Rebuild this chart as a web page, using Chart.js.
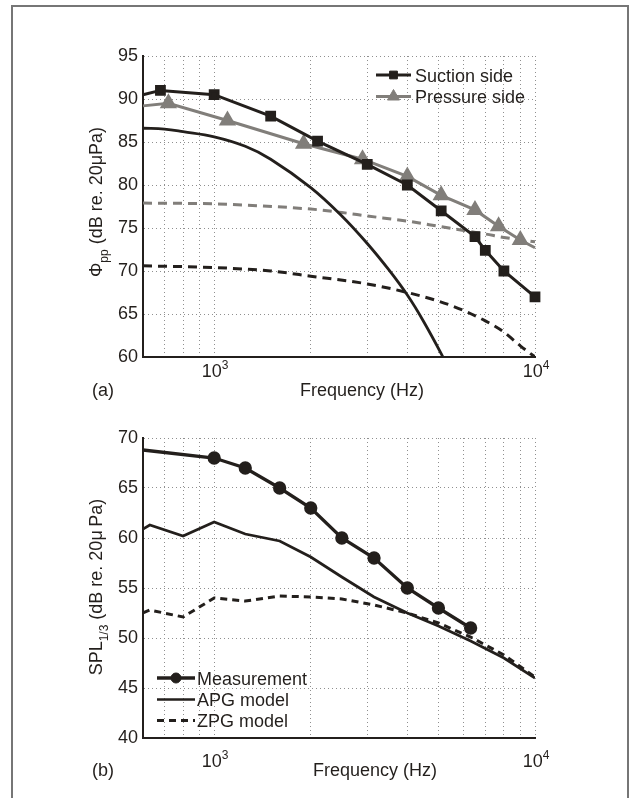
<!DOCTYPE html>
<html>
<head>
<meta charset="utf-8">
<script src="https://cdn.jsdelivr.net/npm/chart.js@4/dist/chart.umd.min.js"></script>
<style>
  html, body { margin: 0; padding: 0; background: #fff; }
  #page { position: relative; width: 629px; height: 798px; overflow: hidden; background: #fff; }
  #frame { position: absolute; left: 11px; top: 5px; width: 614px; height: 820px;
           border: 2px solid #767676; border-bottom: none; }
  canvas { position: absolute; left: 0; }
  #cA { top: 0; }
  #cB { top: 400px; }
</style>
</head>
<body>
<div id="page">
  <div id="frame"></div>
  <canvas id="cA" width="629" height="400"></canvas>
  <canvas id="cB" width="629" height="398"></canvas>
</div>
<script>
// ---- frequency axis: grid positions and labelled decades ----
const gridFreqs = [600, 700, 800, 900, 1000, 2000, 3000, 4000, 5000, 6000, 7000, 8000, 9000, 10000];
const decadeLabels = [1000, 10000];

// ---- (a) wall-pressure spectra, dB re. 20 uPa ----
const suctionFreq = [600, 680, 1000, 1500, 2100, 3000, 4000, 5100, 6500, 7000, 8000, 10000];
const suctionPhi  = [90.5, 91.0, 90.5, 88.0, 85.1, 82.4, 80.0, 77.0, 74.0, 72.4, 70.0, 67.0];
const pressureFreq = [600, 720, 1100, 1900, 2900, 4000, 5100, 6500, 7700, 9000, 10000];
const pressurePhi  = [89.2, 89.5, 87.5, 84.8, 83.0, 81.0, 78.8, 77.1, 75.2, 73.6, 72.7];
const suctionModelFreq = [600, 700, 800, 1000, 1250, 1500, 2000, 2500, 3000, 3500, 4000, 4500, 5200, 5600];
const suctionModelPhi  = [86.6, 86.5, 86.2, 85.6, 84.5, 83.0, 79.7, 76.4, 73.2, 70.15, 67.2, 64.1, 59.8, 57.4];
const pressureModelFreq = [600, 1000, 2000, 2500, 3000, 4000, 5000, 6000, 7000, 8000, 10000];
const pressureModelPhi  = [77.9, 77.8, 77.2, 76.8, 76.4, 75.8, 75.2, 74.7, 74.3, 73.9, 73.4];
const zpgModelFreq = [600, 1000, 1500, 2000, 3000, 4000, 5000, 6000, 7000, 8000, 9000, 10000];
const zpgModelPhi  = [70.6, 70.4, 70.0, 69.4, 68.5, 67.5, 66.5, 65.4, 64.2, 62.9, 61.3, 60.0];

// ---- (b) one-third-octave far-field noise ----
const measFreq = [600, 1000, 1250, 1600, 2000, 2500, 3150, 4000, 5000, 6300];
const measSPL  = [68.8, 68.0, 67.0, 65.0, 63.0, 60.0, 58.0, 55.0, 53.0, 51.0];
const bandFreq = [600, 630, 800, 1000, 1250, 1600, 2000, 2500, 3150, 4000, 5000, 6300, 8000, 10000];
const apgSPL   = [60.9, 61.3, 60.2, 61.6, 60.4, 59.7, 58.1, 56.1, 54.1, 52.5, 51.2, 49.7, 48.0, 46.0];
const zpgSPL   = [52.5, 52.8, 52.1, 54.0, 53.7, 54.2, 54.1, 53.9, 53.3, 52.5, 51.5, 50.1, 48.3, 46.1];

// ---- styling ----
const FAMILY = '"Liberation Sans", Arial, Helvetica, sans-serif';
const INK = '#231f1c';
const GREY = '#817e7a';
const GRID = '#8f8f8f';

const pts = (xs, ys) => xs.map((x, i) => ({ x, y: ys[i] }));

function freqScale(height) {
  return {
    type: 'logarithmic', min: 600, max: 10000,
    afterBuildTicks(s) { s.ticks = gridFreqs.map(v => ({ value: v })); },
    afterFit(s) { s.height = height; },
    ticks: { display: false },
    grid: { color: GRID, lineWidth: 1, drawTicks: false },
    border: { color: INK, width: 2, dash: [1, 3] }
  };
}
function levelScale(min, max) {
  return {
    type: 'linear', min, max,
    afterFit(s) { s.width = 143; },
    ticks: { stepSize: 5, color: INK, font: { family: FAMILY, size: 18 }, padding: 5 },
    grid: { color: GRID, lineWidth: 1, drawTicks: false },
    border: { color: INK, width: 2, dash: [1, 3] }
  };
}

// text made of runs with their own size and baseline shift
function richWidth(ctx, parts) {
  let w = 0;
  for (const p of parts) { ctx.font = p.size + 'px ' + FAMILY; w += ctx.measureText(p.text).width; }
  return w;
}
function drawRich(ctx, parts, cx, baseline) {
  let x = cx - richWidth(ctx, parts) / 2;
  ctx.textAlign = 'left';
  ctx.textBaseline = 'alphabetic';
  for (const p of parts) {
    ctx.font = p.size + 'px ' + FAMILY;
    ctx.fillText(p.text, x, baseline + (p.dy || 0));
    x += ctx.measureText(p.text).width;
  }
}

function drawMarker(ctx, style, r, x, y, color) {
  ctx.save();
  ctx.fillStyle = color; ctx.strokeStyle = color; ctx.lineWidth = 1; ctx.setLineDash([]);
  ctx.beginPath();
  if (style === 'rect') {
    const s = Math.SQRT1_2 * r;
    ctx.rect(x - s, y - s, 2 * s, 2 * s);
  } else if (style === 'triangle') {
    let a = 0;
    ctx.moveTo(x + Math.sin(a) * r, y - Math.cos(a) * r);
    a += 2 * Math.PI / 3;
    ctx.lineTo(x + Math.sin(a) * r, y - Math.cos(a) * r);
    a += 2 * Math.PI / 3;
    ctx.lineTo(x + Math.sin(a) * r, y - Math.cos(a) * r);
    ctx.closePath();
  } else {
    ctx.arc(x, y, r, 0, Math.PI * 2);
  }
  ctx.fill(); ctx.stroke();
  ctx.restore();
}

function annotations(cfg) {
  return {
    id: 'annotations',
    afterDraw(chart) {
      const ctx = chart.ctx, area = chart.chartArea, xs = chart.scales.x;
      ctx.save();
      ctx.fillStyle = INK;
      // decade tick labels 10^n
      for (const v of decadeLabels) {
        drawRich(ctx, [{ text: '10', size: 18 }, { text: String(Math.round(Math.log10(v))), size: 12, dy: -8 }],
                 xs.getPixelForValue(v) + 1, area.bottom + cfg.decadeBaseline);
      }
      // x title and panel tag
      drawRich(ctx, [{ text: 'Frequency (Hz)', size: 18 }], cfg.titleX, area.bottom + cfg.titleBaseline);
      drawRich(ctx, [{ text: cfg.panel, size: 18 }], 103, area.bottom + cfg.titleBaseline);
      // rotated y title
      ctx.save();
      ctx.translate(cfg.yTitleX, cfg.yTitleY);
      ctx.rotate(-Math.PI / 2);
      drawRich(ctx, cfg.yTitle, 0, 0);
      ctx.restore();
      // legend
      const L = cfg.legend;
      L.items.forEach((it, i) => {
        const y = L.rows[i];
        ctx.save();
        ctx.strokeStyle = it.color; ctx.lineWidth = it.width; ctx.lineCap = 'butt';
        ctx.setLineDash(it.dash || []);
        ctx.beginPath(); ctx.moveTo(L.x0, y); ctx.lineTo(L.x1, y); ctx.stroke();
        ctx.restore();
        if (it.marker) drawMarker(ctx, it.marker, it.radius, (L.x0 + L.x1) / 2, y, it.color);
        ctx.fillStyle = INK;
        ctx.font = '18px ' + FAMILY; ctx.textAlign = 'left'; ctx.textBaseline = 'alphabetic';
        ctx.fillText(it.label, L.textX, y + 6.5);
      });
      ctx.restore();
    }
  };
}

const common = {
  responsive: false, animation: false, events: [],
  plugins: { legend: { display: false }, tooltip: { enabled: false } },
  elements: { point: { borderWidth: 1 } }
};

// ---------- panel (a) ----------
new Chart(document.getElementById('cA'), {
  type: 'line',
  data: {
    datasets: [
      { label: 'Suction side', data: pts(suctionFreq, suctionPhi), borderColor: INK, backgroundColor: INK,
        borderWidth: 3, pointStyle: 'rect', pointRadius: suctionFreq.map((f, i) => i === 0 ? 0 : 5.5),
        clip: false, tension: 0 },
      { label: 'Pressure side', data: pts(pressureFreq, pressurePhi), borderColor: GREY, backgroundColor: GREY,
        borderWidth: 3, pointStyle: 'triangle',
        pointRadius: pressureFreq.map((f, i) => (i === 0 || i === pressureFreq.length - 1) ? 0 : 7),
        clip: false, tension: 0 },
      { label: 'Suction model', data: pts(suctionModelFreq, suctionModelPhi), borderColor: INK,
        borderWidth: 2.8, pointRadius: 0, tension: 0.4 },
      { label: 'Pressure model', data: pts(pressureModelFreq, pressureModelPhi), borderColor: GREY,
        borderWidth: 3, borderDash: [9, 6], pointRadius: 0, cubicInterpolationMode: 'monotone' },
      { label: 'Suction ZPG model', data: pts(zpgModelFreq, zpgModelPhi), borderColor: INK,
        borderWidth: 3, borderDash: [9, 6], pointRadius: 0, cubicInterpolationMode: 'monotone' }
    ]
  },
  options: Object.assign({}, common, {
    layout: { padding: { top: 56, right: 94, left: 0, bottom: 0 } },
    scales: { x: freqScale(43), y: levelScale(60, 95) }
  }),
  plugins: [annotations({
    decadeBaseline: 19.5, titleBaseline: 39, titleX: 362, panel: '(a)',
    yTitleX: 101.5, yTitleY: 202,
    yTitle: [{ text: 'Φ', size: 18 }, { text: 'pp', size: 12, dy: 6 }, { text: ' (dB re. 20μPa)', size: 18 }],
    legend: {
      x0: 376, x1: 411, textX: 415, rows: [75, 96.5],
      items: [
        { label: 'Suction side', color: INK, width: 3, marker: 'rect', radius: 5.5 },
        { label: 'Pressure side', color: GREY, width: 3, marker: 'triangle', radius: 7 }
      ]
    }
  })]
});

// ---------- panel (b) ----------
new Chart(document.getElementById('cB'), {
  type: 'line',
  data: {
    datasets: [
      { label: 'Measurement', data: pts(measFreq, measSPL), borderColor: INK, backgroundColor: INK,
        borderWidth: 3.3, pointStyle: 'circle', pointRadius: measFreq.map((f, i) => i === 0 ? 0 : 5),
        clip: false, tension: 0 },
      { label: 'APG model', data: pts(bandFreq, apgSPL), borderColor: INK,
        borderWidth: 2.7, pointRadius: 0, tension: 0 },
      { label: 'ZPG model', data: pts(bandFreq, zpgSPL), borderColor: INK,
        borderWidth: 3, borderDash: [7, 5], pointRadius: 0, tension: 0 }
    ]
  },
  options: Object.assign({}, common, {
    layout: { padding: { top: 38, right: 94, left: 0, bottom: 0 } },
    scales: { x: freqScale(60), y: levelScale(40, 70) }
  }),
  plugins: [annotations({
    decadeBaseline: 28.5, titleBaseline: 38, titleX: 375, panel: '(b)',
    yTitleX: 101.5, yTitleY: 187,
    yTitle: [{ text: 'SPL', size: 18 }, { text: '1/3', size: 12, dy: 6 }, { text: ' (dB re. 20μ\u2009Pa)', size: 18 }],
    legend: {
      x0: 157, x1: 195, textX: 197, rows: [278, 299.5, 320.5],
      items: [
        { label: 'Measurement', color: INK, width: 3.3, marker: 'circle', radius: 5 },
        { label: 'APG model', color: INK, width: 2.7 },
        { label: 'ZPG model', color: INK, width: 3, dash: [7, 5] }
      ]
    }
  })]
});
</script>
</body>
</html>
